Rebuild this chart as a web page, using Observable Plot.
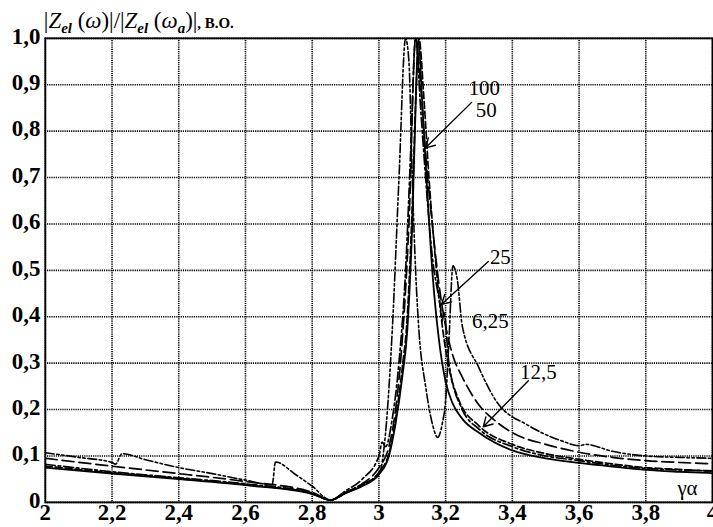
<!DOCTYPE html>
<html>
<head>
<meta charset="utf-8">
<script src="https://cdn.jsdelivr.net/npm/d3@7"></script>
<script src="https://cdn.jsdelivr.net/npm/@observablehq/plot@0.6"></script>
<style>
  html, body { margin: 0; padding: 0; background: #fff; overflow: hidden; }
</style>
</head>
<body>
<div id="chart"></div>
<script>
// ---- tick values ----
const xTicks = [2, 2.2, 2.4, 2.6, 2.8, 3, 3.2, 3.4, 3.6, 3.8, 4];
const yTicks = [0, 0.1, 0.2, 0.3, 0.4, 0.5, 0.6, 0.7, 0.8, 0.9, 1.0];

// ---- series (curve parameter) ----
const seriesNames = ["100", "50", "25", "12,5", "6,25"];

const x100 = [2.0, 2.2, 2.4, 2.6, 2.8, 2.855, 2.9, 2.95, 3.0, 3.03, 3.05, 3.07, 3.085, 3.1, 3.11, 3.118, 3.13, 3.143, 3.16, 3.18, 3.2, 3.22, 3.25, 3.3, 3.4, 3.5, 3.6, 3.7, 3.8, 3.9, 4.0];
const y100 = [0.075, 0.062, 0.05, 0.037, 0.018, 0.005, 0.02, 0.035, 0.06, 0.1, 0.17, 0.27, 0.37, 0.6, 0.85, 1.0, 0.86, 0.695, 0.5, 0.35, 0.26, 0.215, 0.18, 0.15, 0.112, 0.095, 0.085, 0.077, 0.07, 0.066, 0.063];

const x50 = [2.0, 2.2, 2.4, 2.6, 2.8, 2.855, 2.9, 2.95, 3.0, 3.03, 3.05, 3.07, 3.085, 3.1, 3.112, 3.12, 3.135, 3.15, 3.17, 3.19, 3.21, 3.24, 3.3, 3.4, 3.5, 3.6, 3.7, 3.8, 3.9, 4.0];
const y50 = [0.078, 0.064, 0.052, 0.038, 0.019, 0.005, 0.02, 0.037, 0.065, 0.105, 0.18, 0.29, 0.4, 0.64, 0.9, 1.0, 0.87, 0.7, 0.52, 0.38, 0.29, 0.22, 0.165, 0.125, 0.105, 0.093, 0.083, 0.075, 0.071, 0.067];

const x25 = [2.0, 2.2, 2.4, 2.6, 2.8, 2.855, 2.9, 2.95, 3.0, 3.01, 3.02, 3.04, 3.06, 3.08, 3.095, 3.11, 3.125, 3.14, 3.16, 3.18, 3.185, 3.19, 3.195, 3.21, 3.25, 3.3, 3.4, 3.5, 3.6, 3.7, 3.8, 3.9, 4.0];
const y25 = [0.082, 0.066, 0.053, 0.04, 0.02, 0.005, 0.025, 0.05, 0.1, 0.13, 0.12, 0.18, 0.3, 0.5, 0.75, 1.0, 0.85, 0.7, 0.53, 0.44, 0.42, 0.39, 0.41, 0.3, 0.2, 0.158, 0.12, 0.1, 0.09, 0.08, 0.073, 0.07, 0.068];

const x12 = [2.0, 2.2, 2.4, 2.6, 2.8, 2.855, 2.9, 2.95, 3.0, 3.03, 3.05, 3.07, 3.09, 3.11, 3.125, 3.14, 3.16, 3.18, 3.2, 3.22, 3.25, 3.3, 3.35, 3.4, 3.5, 3.6, 3.7, 3.8, 3.9, 4.0];
const y12 = [0.095, 0.078, 0.062, 0.045, 0.022, 0.005, 0.022, 0.04, 0.075, 0.12, 0.2, 0.35, 0.6, 1.0, 0.9, 0.75, 0.6, 0.47, 0.38, 0.32, 0.27, 0.21, 0.175, 0.15, 0.125, 0.108, 0.097, 0.09, 0.086, 0.083];

const x625 = [2.0, 2.1, 2.2, 2.21, 2.23, 2.3, 2.4, 2.5, 2.6, 2.68, 2.69, 2.75, 2.8, 2.855, 2.9, 2.95, 3.0, 3.02, 3.04, 3.06, 3.08, 3.09, 3.1, 3.11, 3.12, 3.14, 3.16, 3.176, 3.19, 3.2, 3.21, 3.222, 3.235, 3.25, 3.3, 3.35, 3.45, 3.55, 3.6, 3.62, 3.7, 3.8, 3.9, 4.0];
const y625 = [0.107, 0.097, 0.086, 0.082, 0.105, 0.092, 0.075, 0.062, 0.048, 0.038, 0.087, 0.06, 0.035, 0.005, 0.02, 0.04, 0.06, 0.15, 0.37, 0.695, 1.0, 0.95, 0.7, 0.5, 0.37, 0.25, 0.17, 0.14, 0.17, 0.22, 0.35, 0.51, 0.48, 0.38, 0.29, 0.22, 0.165, 0.132, 0.122, 0.125, 0.11, 0.1, 0.097, 0.095];

// ---- annotations ----
const labelText = ["100", "50", "25", "6,25", "12,5"];
const labelX = [3.316, 3.322, 3.364, 3.334, 3.478];
const labelY = [0.893, 0.845, 0.528, 0.39, 0.281];

const arrowX1 = [3.278, 3.328, 3.448];
const arrowY1 = [0.862, 0.519, 0.262];
const arrowX2 = [3.14, 3.188, 3.313];
const arrowY2 = [0.764, 0.427, 0.163];

// ---- build tables ----
const seriesX = [x100, x50, x25, x12, x625];
const seriesY = [y100, y50, y25, y12, y625];
const rows = [];
seriesNames.forEach((s, i) => seriesX[i].forEach((x, j) => rows.push({series: s, x, y: seriesY[i][j]})));
const labels = labelText.map((t, i) => ({t, x: labelX[i], y: labelY[i]}));
const arrows = arrowX1.map((_, i) => ({x1: arrowX1[i], y1: arrowY1[i], x2: arrowX2[i], y2: arrowY2[i]}));

const dashes = {"100": null, "50": "7,3", "25": "10,3,2.5,3", "12,5": "12,5", "6,25": "9,2.5,2.5,2.5,2.5,2.5"};
const widths = {"100": 1.8, "50": 1.7, "25": 1.7, "12,5": 1.7, "6,25": 1.6};

const serif = "'Liberation Serif', 'DejaVu Serif', serif";
const fmtY = d => d === 0 ? "0" : d.toFixed(1).replace(".", ",");
const fmtX = d => Number.isInteger(d) ? String(d) : d.toFixed(1).replace(".", ",");

const lines = seriesNames.map(s => Plot.line(rows.filter(r => r.series === s), {
  x: "x", y: "y", stroke: "black", strokeWidth: widths[s],
  strokeDasharray: dashes[s] || undefined, curve: "monotone-x", clip: true
}));

const plot = Plot.plot({
  width: 716,
  height: 527,
  marginLeft: 45,
  marginRight: 1,
  marginTop: 38,
  marginBottom: 23,
  style: {background: "white", fontFamily: serif},
  x: {domain: [2, 4]},
  y: {domain: [0, 1]},
  marks: [
    Plot.gridX(xTicks, {stroke: "black", strokeOpacity: 1, strokeWidth: 1.6, strokeDasharray: "1.2,1"}),
    Plot.gridY(yTicks, {stroke: "black", strokeOpacity: 1, strokeWidth: 1.6, strokeDasharray: "1.2,1"}),
    Plot.frame({stroke: "black", strokeWidth: 1.8}),
    Plot.axisY(yTicks, {tickFormat: fmtY, tickSize: 0, tickPadding: 5, fontSize: 23, fontWeight: "bold", fill: "black", label: null, dy: -2}),
    Plot.axisX(xTicks, {tickFormat: fmtX, tickSize: 0, tickPadding: 1, fontSize: 23, fontWeight: "bold", fill: "black", label: null}),
    ...lines,
    Plot.arrow(arrows, {x1: "x1", y1: "y1", x2: "x2", y2: "y2", stroke: "black", strokeWidth: 1.4, headLength: 11}),
    Plot.text(labels, {x: "x", y: "y", text: "t", fontSize: 21, fill: "black", fontFamily: serif}),
    Plot.text(["γα"], {x: 3.925, y: 0.03, text: d => d, fontSize: 21, fill: "black", fontFamily: serif})
  ]
});

document.getElementById("chart").appendChild(plot);

// y-axis title above the plot
const svg = d3.select(plot);
const t = svg.append("text")
  .attr("x", 44).attr("y", 28)
  .attr("text-anchor", "start")
  .attr("font-family", serif).attr("font-size", 23).attr("fill", "black");
const parts = [
  ["|", {}], ["Z", {it: 1}], ["el", {it: 1, sub: 1}], [" (", {}], ["ω", {it: 1}], [")|/|", {}],
  ["Z", {it: 1}], ["el", {it: 1, sub: 1}], [" (", {}], ["ω", {it: 1}], ["a", {it: 1, sub: 1}], [")|", {}]
];
let inSub = false;
parts.forEach(([s, o]) => {
  const sp = t.append("tspan").text(s);
  if (o.it) sp.attr("font-style", "italic");
  if (o.sub) { sp.attr("font-size", 15).attr("font-weight", "bold"); if (!inSub) { sp.attr("dy", 5); inSub = true; } }
  else if (inSub) { sp.attr("dy", -5); inSub = false; }
});
t.append("tspan").text(", В.О.").attr("font-size", 15).attr("font-weight", "bold");
</script>
</body>
</html>
